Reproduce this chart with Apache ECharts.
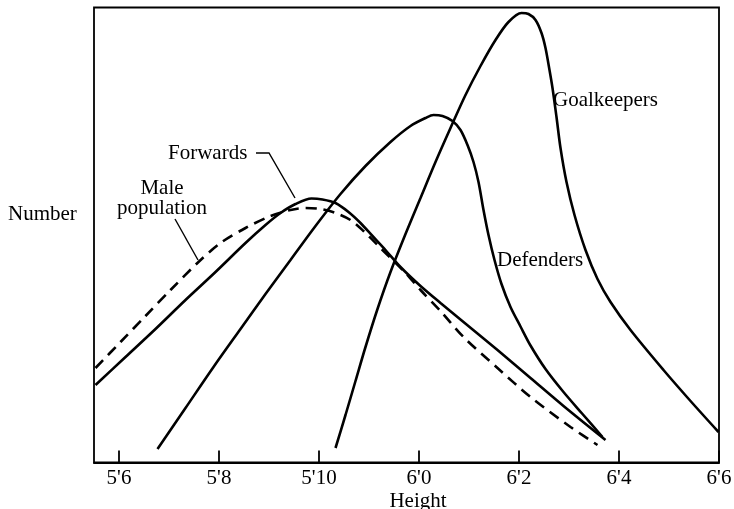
<!DOCTYPE html>
<html><head><meta charset="utf-8">
<script src="https://cdn.jsdelivr.net/npm/echarts@6/dist/echarts.min.js"></script>
<style>html,body{margin:0;padding:0;background:#fff}#c{width:734px;height:509px}</style>
</head><body><div id="c"></div>
<script>
// Height axis (inches) and tick labels
const tickValues = [66, 68, 70, 72, 74, 76, 78];
const tickLabels = ["5'6", "5'8", "5'10", "6'0", "6'2", "6'4", "6'6"];

// Male population (dashed)
const maleHeights = [65.53, 66.03, 66.53, 67.03, 67.59, 68.03, 68.53, 69.03, 69.43, 69.73, 70.03, 70.33, 70.63, 70.89, 71.17, 71.43, 71.73, 72.03, 72.43, 72.89, 73.57, 74.23, 75.03, 75.57];
const maleCounts  = [94.5, 120.5, 146.5, 172.5, 200.5, 219.5, 234.5, 246.5, 252.5, 254.5, 253.5, 249.5, 242.5, 231.5, 217.5, 204.5, 189.5, 172.5, 151.5, 125.5, 94.5, 65.5, 35.5, 17.5];

// Forwards
const fwdHeights = [65.53, 66.13, 66.73, 67.33, 67.93, 68.53, 68.93, 69.23, 69.53, 69.85, 70.07, 70.33, 70.59, 70.83, 71.07, 71.33, 71.63, 72.03, 72.43, 72.89, 73.57, 74.23, 74.89, 75.73];
const fwdCounts  = [77.5, 105.5, 133.5, 162.5, 190.5, 219.5, 237.5, 249.5, 258.5, 264, 263, 259.5, 250.5, 239.5, 226.5, 212.5, 195.5, 176.5, 159.5, 140.5, 112.5, 84.5, 56.5, 22.5];

// Defenders
const defHeights = [66.77, 67.33, 67.89, 68.43, 68.93, 69.43, 69.93, 70.43, 70.93, 71.43, 71.83, 72.13, 72.29, 72.47, 72.67, 72.83, 72.97, 73.09, 73.19, 73.29, 73.39, 73.51, 73.65, 73.83, 74.03, 74.23, 74.53, 74.89, 75.27, 75.67];
const defCounts  = [13.5, 54.5, 95.5, 133.5, 168.5, 202.5, 236.5, 268.5, 296.5, 320.5, 336.5, 344.5, 347.5, 346.5, 341.5, 332.5, 317.5, 300.5, 280.5, 252.5, 227.5, 202.5, 178.5, 155.5, 136, 117, 93.5, 70.5, 48.5, 25.5];

// Goalkeepers
const gkHeights = [70.33, 70.53, 70.73, 70.93, 71.17, 71.43, 71.73, 72.03, 72.33, 72.63, 72.93, 73.23, 73.53, 73.79, 74.05, 74.19, 74.33, 74.45, 74.53, 74.61, 74.67, 74.75, 74.83, 74.95, 75.11, 75.33, 75.57, 75.83, 76.23, 76.89, 77.43, 77.99];
const gkCounts  = [14.5, 47.5, 81.5, 115.5, 153.5, 190.5, 228.5, 264.5, 300.5, 334.5, 367.5, 396.5, 422.5, 440.5, 449.5, 448.5, 442.5, 429.5, 414.5, 392.5, 374.5, 345.5, 314.5, 280.5, 247.5, 212.5, 183.5, 160.5, 132.5, 92.5, 61.5, 30.5];

const zip = (xs, ys) => xs.map((x, i) => [x, ys[i]]);
const serif = '"Liberation Serif", "DejaVu Serif", serif';
const lineBase = { type: 'line', symbol: 'none', showSymbol: false, smooth: 0.3, silent: true };

const chart = echarts.init(document.getElementById('c'), null, { renderer: 'canvas' });
chart.setOption({
  animation: false,
  backgroundColor: '#fff',
  grid: { left: 94, right: 15, top: 7.5, bottom: 46.5, containLabel: false, outerBoundsMode: 'none',
          show: true, borderColor: '#000', borderWidth: 1.8, backgroundColor: 'transparent' },
  xAxis: {
    type: 'value', min: 65.5, max: 78,
    splitLine: { show: false },
    axisLine: { show: true, lineStyle: { color: '#000', width: 1.8 } },
    axisTick: { show: true, inside: true, length: 12, customValues: tickValues, lineStyle: { color: '#000', width: 1.8 } },
    axisLabel: { customValues: tickValues, formatter: v => tickLabels[tickValues.indexOf(v)],
                 color: '#000', fontFamily: serif, fontSize: 21, margin: 5 }
  },
  yAxis: {
    type: 'value', min: 0, max: 455,
    splitLine: { show: false }, axisLine: { show: false }, axisTick: { show: false }, axisLabel: { show: false }
  },
  series: [
    Object.assign({}, lineBase, { name: 'Male population', data: zip(maleHeights, maleCounts),
      lineStyle: { color: '#000', width: 2.6, type: [11, 7] } }),
    Object.assign({}, lineBase, { name: 'Forwards', data: zip(fwdHeights, fwdCounts),
      lineStyle: { color: '#000', width: 2.6 } }),
    Object.assign({}, lineBase, { name: 'Defenders', data: zip(defHeights, defCounts),
      lineStyle: { color: '#000', width: 2.6 } }),
    Object.assign({}, lineBase, { name: 'Goalkeepers', data: zip(gkHeights, gkCounts),
      lineStyle: { color: '#000', width: 2.6 } })
  ],
  graphic: [
    { type: 'text', x: 8, y: 214, style: { text: 'Number', font: '21px ' + serif, fill: '#000', verticalAlign: 'middle' } },
    { type: 'text', x: 418, y: 501, style: { text: 'Height', font: '21px ' + serif, fill: '#000', align: 'center', verticalAlign: 'middle' } },
    { type: 'text', x: 553, y: 100, style: { text: 'Goalkeepers', font: '21px ' + serif, fill: '#000', verticalAlign: 'middle' } },
    { type: 'text', x: 497, y: 260, style: { text: 'Defenders', font: '21px ' + serif, fill: '#000', verticalAlign: 'middle' } },
    { type: 'text', x: 168, y: 153, style: { text: 'Forwards', font: '21px ' + serif, fill: '#000', verticalAlign: 'middle' } },
    { type: 'text', x: 162, y: 198, style: { text: 'Male\npopulation', font: '21px ' + serif, fill: '#000', align: 'center', verticalAlign: 'middle', lineHeight: 20 } },
    { type: 'polyline', shape: { points: [[256, 153], [269, 153], [295, 198]] }, style: { stroke: '#000', lineWidth: 1.4, fill: null } },
    { type: 'polyline', shape: { points: [[175, 219], [198, 260]] }, style: { stroke: '#000', lineWidth: 1.4, fill: null } }
  ]
});
</script>
</body></html>
